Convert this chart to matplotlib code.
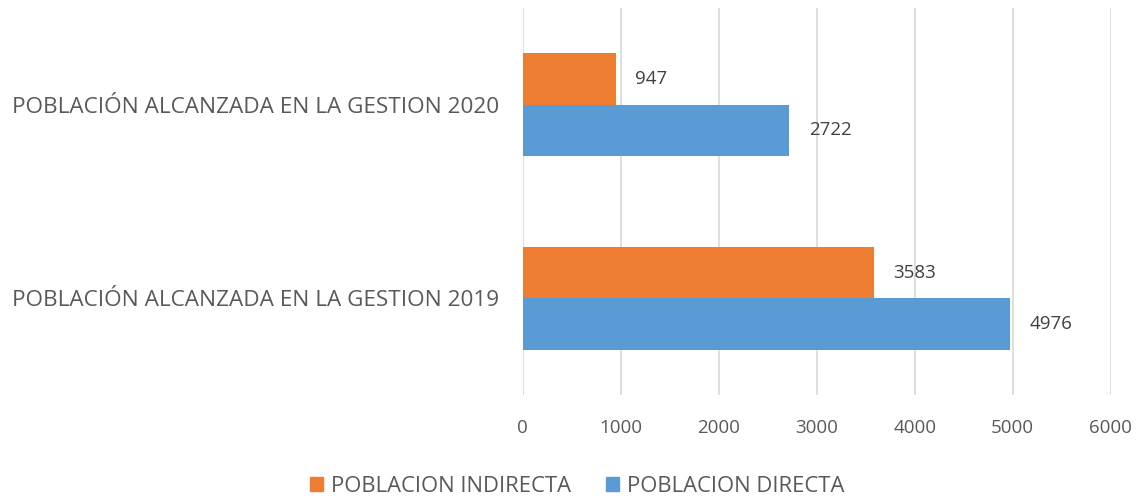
import matplotlib.pyplot as plt
from matplotlib.patches import Patch

# data
categories = ['POBLACIÓN ALCANZADA EN LA GESTION 2019', 'POBLACIÓN ALCANZADA EN LA GESTION 2020']
indirecta = [3583, 947]
directa = [4976, 2722]
series_names = ['POBLACION INDIRECTA', 'POBLACION DIRECTA']
xticks = [0, 1000, 2000, 3000, 4000, 5000, 6000]

orange = '#ED7D31'
blue = '#5B9BD5'
text_grey = '#595959'

plt.rcParams['font.family'] = ['Open Sans', 'DejaVu Sans']

fig = plt.figure(figsize=(11.43, 5.01), dpi=100)
ax = fig.add_axes([522.7 / 1143, 1 - 395 / 501, 588 / 1143, 387 / 501])

h = 0.265
pos = list(range(len(categories)))
b_ind = ax.barh([p + h / 2 for p in pos], indirecta, height=h, color=orange)
b_dir = ax.barh([p - h / 2 for p in pos], directa, height=h, color=blue)

# value labels to the right of each bar
for bars in (b_ind, b_dir):
    for rect in bars:
        w = rect.get_width()
        ax.text(w + 200, rect.get_y() + rect.get_height() / 2, str(int(w)),
                va='center', ha='left', fontsize=13.5, color='#404040')

ax.set_xlim(0, 6000)
ax.set_ylim(-0.5, 1.5)
ax.set_xticks(xticks)
ax.set_xticklabels([str(t) for t in xticks])
ax.set_yticks(pos)
ax.set_yticklabels(categories)
ax.tick_params(axis='x', length=0, labelsize=13.5, labelcolor=text_grey, pad=17)
ax.tick_params(axis='y', length=0, labelsize=16.2, labelcolor=text_grey, pad=17)

ax.grid(axis='x', color='#D9D9D9', linewidth=1.2)
ax.set_axisbelow(True)
for s in ax.spines.values():
    s.set_visible(False)

handles = [Patch(color=orange), Patch(color=blue)]
fig.legend(handles, series_names, loc='center', bbox_to_anchor=(577 / 1143, 1 - 486 / 501),
           ncol=2, frameon=False, fontsize=15.8, labelcolor=text_grey,
           handlelength=0.6, handleheight=0.6, handletextpad=0.35, columnspacing=1.6)

fig.savefig('out.png', dpi=100)
